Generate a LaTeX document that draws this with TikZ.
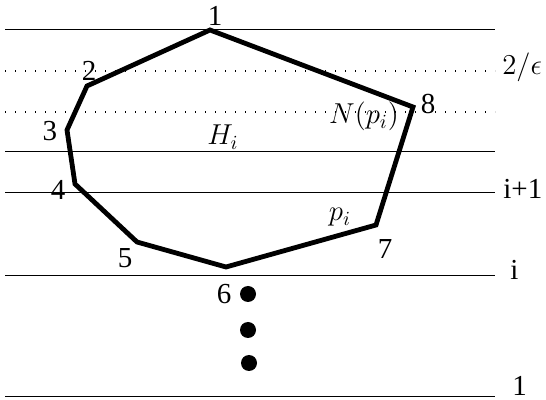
\documentclass[tikz,border=0pt]{standalone}
\usepackage{fontspec}
\setmainfont{Liberation Serif}
\usetikzlibrary{positioning}

\begin{document}
\begin{tikzpicture}[x=0.5pt,y=-0.5pt,
  every node/.style={font=\fontsize{14.5}{16}\selectfont,inner sep=0pt},
  level/.style={line width=0.5pt},
  halfway/.style={line width=0.6pt,dash pattern=on 0.6pt off 4.4pt},
  hull/.style={line width=2.4pt,line join=miter},
  bigdot/.style={circle,fill,minimum size=8pt}]
\useasboundingbox (0,0) rectangle (546,400);
% levels
\foreach \y in {30,152,193,276,397} \draw[level] (5,\y) -- (495,\y);
\foreach \y in {71,112} \draw[halfway] (5,\y) -- (495,\y);
% hull vertices
\coordinate (v1) at (210,30);
\coordinate (v2) at (87,86);
\coordinate (v3) at (67,130);
\coordinate (v4) at (75,184);
\coordinate (v5) at (137,242);
\coordinate (v6) at (226,267);
\coordinate (v7) at (376,225);
\coordinate (v8) at (413,107);
\draw[hull] (v1) -- (v2) -- (v3) -- (v4) -- (v5) -- (v6) -- (v7) -- (v8) -- cycle;
\node (n1) at (215,16) {1};
\node (n2) at (89,71) {2};
\node (n3) at (50,131) {3};
\node (n4) at (58,190) {4};
\node (n5) at (125,258) {5};
\node (n6) at (224,294) {6};
\node (n7) at (385,249) {7};
\node (n8) at (428,104) {8};
\node[anchor=base] (hi) at (223,145) {$H_i$};
\node[anchor=base] (np) at (364,124) {$N(p_i)$};
\node[anchor=base] (pi) at (340,221) {$p_i$};
% level labels
\node[anchor=base west] (leps) at (502,75) {$2/\epsilon$};
\node[anchor=base west] (lip) at (503,199) {i+1};
\node[anchor=base west] (li) at (510,280) {i};
\node[anchor=base west] (lone) at (512,396) {1};
% more levels below
\node[bigdot] (d1) at (248,294) {};
\node[bigdot] (d2) at (248,330) {};
\node[bigdot] (d3) at (249,363) {};
\end{tikzpicture}
\end{document}
